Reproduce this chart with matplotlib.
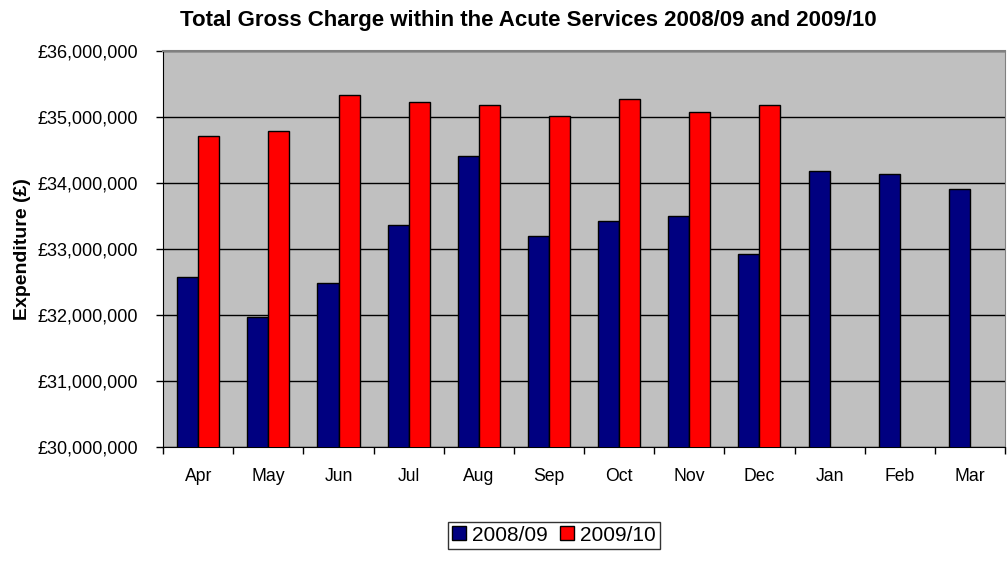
import numpy as np
import matplotlib
matplotlib.use("Agg")
from matplotlib import pyplot as plt
from matplotlib.ticker import FuncFormatter

# Monthly gross charge
months = ["Apr", "May", "Jun", "Jul", "Aug", "Sep", "Oct", "Nov", "Dec", "Jan", "Feb", "Mar"]
charge_0809 = [32570000, 31970000, 32490000, 33370000, 34410000, 33200000,
               33420000, 33500000, 32930000, 34190000, 34130000, 33910000]
charge_0910 = [34710000, 34790000, 35340000, 35230000, 35180000, 35010000,
               35280000, 35070000, 35180000, np.nan, np.nan, np.nan]
series_names = ["2008/09", "2009/10"]

plt.rcParams['font.family'] = ['Liberation Sans', 'DejaVu Sans']

fig = plt.figure(figsize=(10.07, 5.61), dpi=100)
ax = fig.add_axes([0.162, 0.203, 0.836, 0.706])

x = np.arange(len(months))
w = 0.3
ax.bar(x - w / 2, charge_0809, w, color="#000080", edgecolor="black", linewidth=1,
       label=series_names[0], zorder=3)
ax.bar(x + w / 2, charge_0910, w, color="#FF0000", edgecolor="black", linewidth=1,
       label=series_names[1], zorder=3)

ax.set_facecolor("#C0C0C0")
ax.set_ylim(30000000, 36000000)
ax.set_yticks(np.arange(30000000, 36000001, 1000000))
ax.yaxis.set_major_formatter(FuncFormatter(lambda v, p: "£{:,.0f}".format(v)))
ax.grid(axis="y", color="black", linewidth=1, zorder=0)
ax.set_axisbelow(True)

ax.set_xlim(-0.5, len(months) - 0.5)
ax.set_xticks(x)
ax.set_xticklabels(months)
ax.set_xticks(np.arange(-0.5, len(months) + 0.5, 1), minor=True)
ax.tick_params(axis="x", which="major", length=0, pad=15, labelsize=12.7)
ax.tick_params(axis="x", which="minor", length=5, width=1, color="black")
ax.tick_params(axis="y", length=5, width=1, labelsize=13, pad=13)

ax.spines["top"].set_color("#808080")
ax.spines["top"].set_linewidth(1.5)
ax.spines["right"].set_color("#808080")
ax.spines["left"].set_color("black")
ax.spines["bottom"].set_color("black")

ax.set_ylabel("Expenditure (£)", fontsize=14, fontweight="bold", labelpad=5)
fig.text(0.525, 0.964, "Total Gross Charge within the Acute Services 2008/09 and 2009/10",
         fontsize=16, fontweight="bold", ha="center", va="center")

leg = fig.legend(loc="center", bbox_to_anchor=(0.55, 0.046), ncol=2, fontsize=15,
                 frameon=True, fancybox=False, edgecolor="black", handlelength=0.65,
                 handleheight=0.65, handletextpad=0.3, columnspacing=0.6,
                 borderpad=0.2)
leg.get_frame().set_linewidth(1)

fig.savefig("out.png", dpi=100)
